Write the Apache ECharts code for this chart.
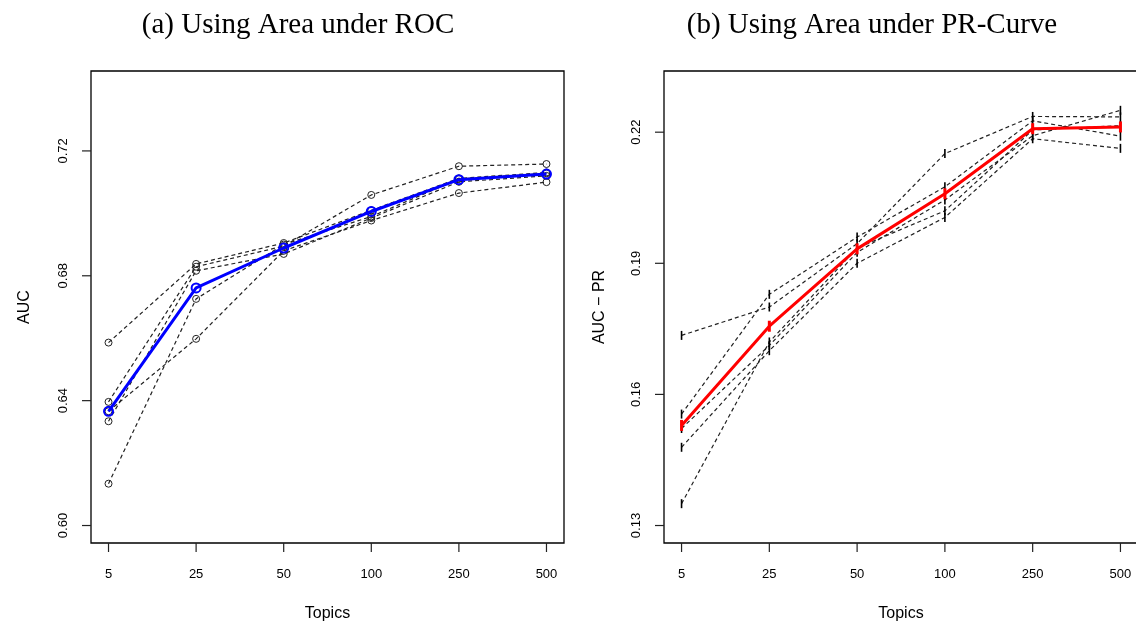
<!DOCTYPE html>
<html>
<head>
<meta charset="utf-8">
<script src="https://cdn.jsdelivr.net/npm/echarts@6/dist/echarts.min.js"></script>
<style>
  html, body { margin: 0; padding: 0; background: #fff; }
  #chart { width: 1136px; height: 622px; }
</style>
</head>
<body>
<div id="chart"></div>
<script>
// ---- data ----
const topics = ['5', '25', '50', '100', '250', '500'];
const aucTicks = [0.60, 0.64, 0.68, 0.72];
const prTicks = [0.13, 0.16, 0.19, 0.22];

// (a) AUC per run (dashed black) and mean (blue)
const aucRun1 = [0.6586, 0.6838, 0.6905, 0.7010, 0.7112, 0.7131];
const aucRun2 = [0.6396, 0.6829, 0.6895, 0.7059, 0.7151, 0.7158];
const aucRun3 = [0.6366, 0.6598, 0.6880, 0.6977, 0.7065, 0.7100];
const aucRun4 = [0.6334, 0.6816, 0.6870, 0.6985, 0.7101, 0.7120];
const aucRun5 = [0.6134, 0.6726, 0.6900, 0.6990, 0.7110, 0.7128];
const aucMean = [0.6366, 0.6761, 0.6889, 0.7006, 0.7108, 0.7126];

// (b) AUC-PR per run (dashed black) and mean (red)
const prRun1 = [0.1735, 0.1800, 0.1945, 0.2151, 0.2236, 0.2235];
const prRun2 = [0.1555, 0.1829, 0.1960, 0.2075, 0.2226, 0.2191];
const prRun3 = [0.1522, 0.1712, 0.1925, 0.2045, 0.2192, 0.2250];
const prRun4 = [0.1479, 0.1700, 0.1900, 0.2005, 0.2185, 0.2163];
const prRun5 = [0.1350, 0.1720, 0.1935, 0.2020, 0.2205, 0.2215];
const prMean = [0.1529, 0.1756, 0.1933, 0.2059, 0.2208, 0.2212];

const aucRuns = [aucRun1, aucRun2, aucRun3, aucRun4, aucRun5];
const prRuns = [prRun1, prRun2, prRun3, prRun4, prRun5];

// axis extents (R-style 4% padding around ylim / category range)
const xMin = -0.2, xMax = 5.2;
const aucMin = 0.5944, aucMax = 0.7456;
const prMin = 0.126, prMax = 0.234;

// ---- chart ----
const pairs = arr => arr.map((v, i) => [i, v]);
const sansFont = 'Liberation Sans, Arial, sans-serif';
const serifFont = 'Liberation Serif, Times New Roman, serif';

function xAxis(gridIndex) {
  return {
    type: 'value', gridIndex, min: xMin, max: xMax,
    name: 'Topics', nameLocation: 'middle', nameGap: 63,
    nameTextStyle: { fontFamily: sansFont, fontSize: 16, color: '#000' },
    axisLine: { show: false, onZero: false },
    splitLine: { show: false },
    axisTick: { show: false },
    axisLabel: { customValues: [0, 1, 2, 3, 4, 5], margin: 25,
                 fontFamily: sansFont, fontSize: 13, color: '#000',
                 formatter: v => topics[Math.round(v)] }
  };
}
function yAxis(gridIndex, min, max, ticks, name, gap, margin) {
  return {
    type: 'value', gridIndex, min, max,
    name, nameLocation: 'middle', nameGap: gap, nameRotate: 90,
    nameTextStyle: { fontFamily: sansFont, fontSize: 16, color: '#000' },
    axisLine: { show: false, onZero: false },
    splitLine: { show: false },
    axisTick: { show: false },
    axisLabel: { customValues: ticks, rotate: 90, margin,
                 fontFamily: sansFont, fontSize: 13, color: '#000',
                 formatter: v => v.toFixed(2) }
  };
}

const series = [];
aucRuns.forEach((run, k) => {
  series.push({
    type: 'line', name: 'AUC run ' + (k + 1), xAxisIndex: 0, yAxisIndex: 0,
    data: pairs(run), symbol: 'circle', symbolSize: 7,
    lineStyle: { color: '#222', width: 1.2, type: [4, 3] },
    itemStyle: { color: 'rgba(0,0,0,0)', borderColor: '#222', borderWidth: 1 },
    z: 2, animation: false
  });
});
series.push({
  type: 'line', name: 'AUC mean', xAxisIndex: 0, yAxisIndex: 0,
  data: pairs(aucMean), symbol: 'circle', symbolSize: 9,
  lineStyle: { color: '#0000ff', width: 3 },
  itemStyle: { color: 'rgba(0,0,0,0)', borderColor: '#0000ff', borderWidth: 2 },
  z: 5, animation: false
});
prRuns.forEach((run, k) => {
  series.push({
    type: 'line', name: 'PR run ' + (k + 1), xAxisIndex: 1, yAxisIndex: 1,
    data: pairs(run), symbol: 'rect', symbolSize: [1.6, 9],
    lineStyle: { color: '#222', width: 1.2, type: [4, 3] },
    itemStyle: { color: '#000' },
    z: 2, animation: false
  });
});
series.push({
  type: 'line', name: 'PR mean', xAxisIndex: 1, yAxisIndex: 1,
  data: pairs(prMean), symbol: 'rect', symbolSize: [3, 11],
  lineStyle: { color: '#ff0000', width: 3 },
  itemStyle: { color: '#ff0000' },
  z: 5, animation: false
});

const chart = echarts.init(document.getElementById('chart'), null, { renderer: 'canvas' });
chart.setOption({
  backgroundColor: '#fff',
  animation: false,
  title: [
    { text: '(a) Using Area under ROC', left: 298, top: 11, textAlign: 'center', padding: 0,
      textStyle: { fontFamily: serifFont, fontWeight: 'normal', fontSize: 29, color: '#000' } },
    { text: '(b) Using Area under PR-Curve', left: 872, top: 11, textAlign: 'center', padding: 0,
      textStyle: { fontFamily: serifFont, fontWeight: 'normal', fontSize: 29, color: '#000' } }
  ],
  grid: [
    { left: 91, top: 71, width: 473, height: 472, show: true, borderColor: '#000', borderWidth: 1.3,
      backgroundColor: 'rgba(0,0,0,0)', containLabel: false, outerBoundsMode: 'none' },
    { left: 664, top: 71, width: 474, height: 472, show: true, borderColor: '#000', borderWidth: 1.3,
      backgroundColor: 'rgba(0,0,0,0)', containLabel: false, outerBoundsMode: 'none' }
  ],
  xAxis: [xAxis(0), xAxis(1)],
  yAxis: [
    yAxis(0, aucMin, aucMax, aucTicks, 'AUC', 58, 21),
    yAxis(1, prMin, prMax, prTicks, 'AUC − PR', 56, 21)
  ],
  series
});

// outward R-style tick marks, positioned through the axes' own scales
const TICK = 9;
const tickLines = [];
function addTicks(gridIndex, yTicks, yMin) {
  yTicks.forEach(t => {
    const p = chart.convertToPixel({ gridIndex }, [xMin, t]);
    tickLines.push({ type: 'line', silent: true, z: 10,
      shape: { x1: p[0] - TICK, y1: p[1], x2: p[0], y2: p[1] },
      style: { stroke: '#222', lineWidth: 1.2 } });
  });
  topics.forEach((_, i) => {
    const p = chart.convertToPixel({ gridIndex }, [i, yMin]);
    tickLines.push({ type: 'line', silent: true, z: 10,
      shape: { x1: p[0], y1: p[1], x2: p[0], y2: p[1] + TICK },
      style: { stroke: '#222', lineWidth: 1.2 } });
  });
}
addTicks(0, aucTicks, aucMin);
addTicks(1, prTicks, prMin);
chart.setOption({ graphic: tickLines });
</script>
</body>
</html>
